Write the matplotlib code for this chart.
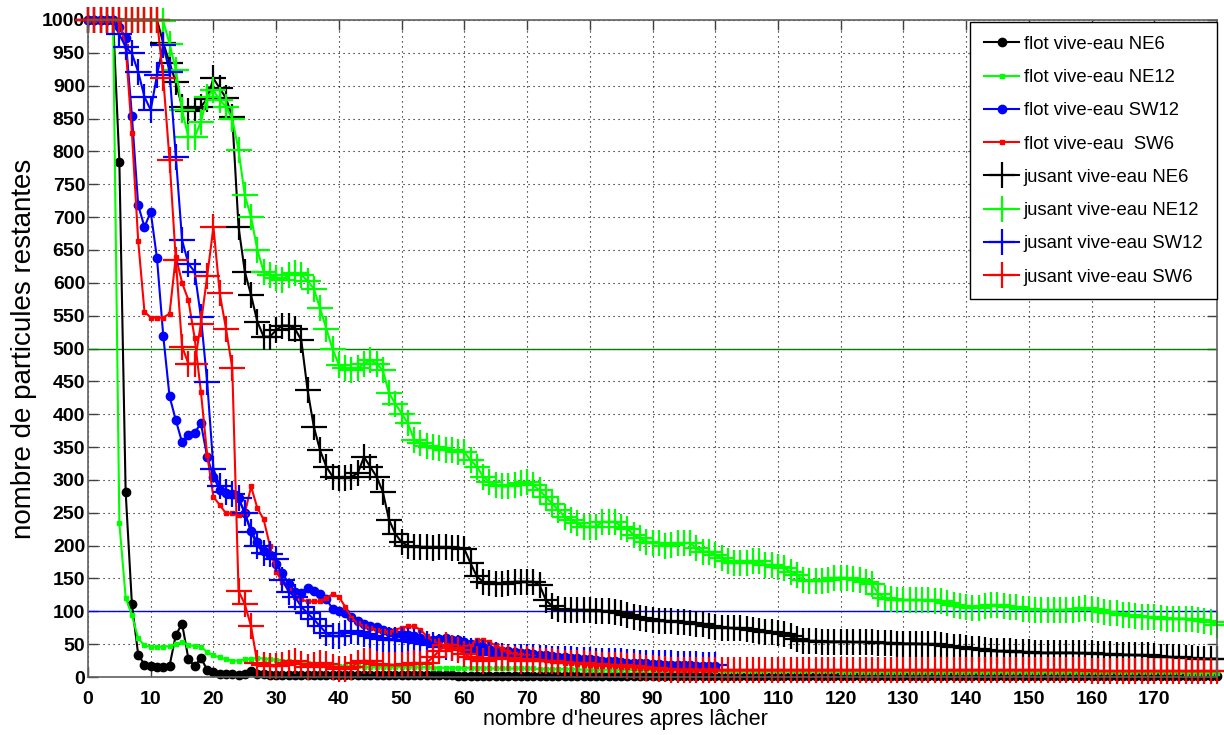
import numpy as np
import matplotlib
matplotlib.use("Agg")
import matplotlib.pyplot as plt

plt.rcParams['font.family'] = ['Liberation Sans', 'DejaVu Sans']

# ---------------- data (hours after release) ----------------
hours_long = np.arange(0, 181)
hours_short = np.arange(0, 101)

flot_NE6 = [
    1000, 1000, 1000, 1000, 1000, 784, 282, 111, 34, 19,
    16, 15, 15, 17, 64, 81, 28, 16, 29, 11,
    7, 5, 4, 4, 3, 4, 9, 5, 4, 3,
    3, 3, 3, 3, 3, 3, 3, 3, 3, 3,
    3, 3, 3, 3, 3, 3, 3, 3, 3, 3,
    3, 3, 3, 3, 3, 3, 3, 3, 3, 2,
    2, 2, 2, 2, 2, 2, 2, 2, 2, 2,
    2, 2, 2, 2, 2, 2, 2, 2, 2, 2,
    2, 2, 2, 2, 2, 2, 2, 2, 2, 2,
    2, 2, 2, 2, 2, 2, 2, 2, 2, 2,
    2, 2, 2, 2, 2, 2, 2, 2, 2, 2,
    2, 2, 2, 2, 2, 2, 2, 2, 2, 2,
    1, 1, 1, 1, 1, 1, 1, 1, 1, 1,
    1, 1, 1, 1, 1, 1, 1, 1, 1, 1,
    1, 1, 1, 1, 1, 1, 1, 1, 1, 1,
    1, 1, 1, 1, 1, 1, 1, 1, 1, 1,
    1, 1, 1, 1, 1, 1, 1, 1, 1, 1,
    1, 1, 1, 1, 1, 1, 1, 1, 1, 1,
    1]

flot_NE12 = [
    1000, 1000, 1000, 1000, 1000, 234, 121, 94, 59, 48,
    46, 46, 46, 47, 50, 53, 49, 47, 46, 38,
    33, 30, 27, 25, 25, 27, 28, 29, 28, 27,
    26, 25, 24, 23, 22, 21, 20, 19, 18, 17,
    16, 16, 16, 16, 15, 15, 15, 15, 15, 15,
    15, 15, 15, 15, 15, 14, 14, 14, 14, 14,
    14, 14, 14, 14, 13, 13, 13, 13, 13, 13,
    13, 13, 12, 12, 12, 12, 12, 12, 12, 11,
    11, 11, 11, 11, 11, 11, 11, 10, 10, 10,
    10, 10, 10, 10, 10, 10, 10, 10, 10, 10,
    9, 9, 9, 9, 9, 9, 9, 9, 9, 9,
    9, 9, 9, 9, 9, 9, 9, 9, 9, 9,
    8, 8, 8, 8, 8, 8, 8, 8, 8, 8,
    8, 8, 8, 8, 8, 8, 8, 8, 8, 8,
    7, 7, 7, 7, 7, 7, 7, 7, 7, 7,
    7, 7, 7, 7, 7, 7, 7, 7, 7, 7,
    7, 7, 7, 7, 7, 7, 7, 7, 7, 7,
    7, 7, 7, 7, 7, 6, 6, 6, 6, 6,
    6]

flot_SW12 = [
    1000, 1000, 1000, 1000, 1000, 990, 972, 854, 718, 685,
    708, 637, 519, 427, 391, 357, 368, 372, 386, 335,
    305, 285, 280, 278, 272, 250, 222, 205, 192, 186,
    172, 158, 142, 130, 128, 135, 131, 127, 118, 104,
    100, 97, 92, 86, 81, 78, 76, 72, 69, 66,
    65, 64, 63, 60, 57, 56, 58, 59, 57, 56,
    54, 50, 48, 45, 42, 41, 40, 39, 38, 37,
    36, 35, 34, 33, 32, 31, 30, 29, 29, 28,
    27, 26, 25, 24, 24, 23, 22, 22, 21, 21,
    20, 20, 19, 19, 18, 18, 18, 17, 17, 16,
    16]

flot_SW6 = [
    1000, 1000, 1000, 1000, 1000, 1000, 960, 828, 664, 556,
    547, 547, 547, 553, 640, 600, 574, 516, 434, 338,
    274, 262, 249, 249, 247, 249, 290, 257, 240, 200,
    160, 145, 132, 122, 118, 115, 115, 115, 120, 126,
    122, 107, 90, 82, 77, 75, 72, 70, 68, 72,
    75, 77, 77, 72, 62, 55, 50, 48, 47, 46,
    45, 50, 56, 56, 53, 48, 43, 38, 35, 33,
    32, 30, 28, 26, 25, 24, 22, 21, 20, 19,
    18, 17, 17, 16, 16, 15, 15, 14, 14, 13,
    12, 12, 12, 11, 11, 11, 11, 10, 10, 10,
    10]

jusant_NE6 = [
    1000, 1000, 1000, 1000, 1000, 1000, 1000, 1000, 1000, 1000,
    1000, 1000, 965, 935, 905, 868, 862, 865, 868, 880,
    911, 896, 881, 852, 685, 617, 581, 541, 518, 518,
    528, 535, 535, 530, 513, 437, 381, 345, 320, 305,
    303, 303, 305, 310, 335, 320, 305, 282, 239, 218,
    205, 200, 198, 198, 198, 197, 198, 198, 197, 196,
    195, 173, 153, 145, 143, 142, 142, 143, 145, 145,
    145, 145, 140, 117, 108, 103, 102, 102, 102, 102,
    102, 101, 100, 100, 99, 97, 95, 92, 90, 88,
    87, 86, 85, 85, 84, 83, 82, 81, 80, 78,
    76, 75, 75, 74, 74, 73, 72, 70, 69, 68,
    67, 65, 62, 58, 55, 55, 55, 54, 54, 54,
    54, 54, 53, 53, 53, 53, 52, 52, 52, 51,
    51, 51, 51, 50, 50, 50, 49, 47, 46, 45,
    44, 43, 42, 41, 40, 39, 39, 39, 38, 38,
    38, 37, 37, 37, 37, 37, 37, 37, 36, 36,
    36, 35, 35, 35, 34, 34, 34, 33, 33, 33,
    32, 31, 31, 30, 30, 29, 29, 28, 28, 28,
    28]

jusant_NE12 = [
    1000, 1000, 1000, 1000, 1000, 1000, 1000, 1000, 1000, 1000,
    1000, 1000, 998, 964, 924, 863, 822, 822, 845, 883,
    893, 878, 868, 850, 802, 733, 700, 650, 617, 612,
    608, 605, 612, 615, 612, 603, 591, 561, 530, 499,
    475, 470, 467, 470, 477, 482, 477, 467, 432, 416,
    401, 386, 361, 356, 352, 350, 348, 346, 345, 343,
    342, 330, 320, 305, 297, 292, 290, 290, 292, 295,
    297, 292, 284, 274, 264, 254, 244, 239, 234, 229,
    229, 229, 236, 236, 236, 229, 226, 216, 211, 206,
    204, 204, 199, 201, 204, 204, 204, 196, 191, 191,
    186, 181, 176, 174, 174, 174, 176, 176, 171, 171,
    168, 166, 160, 156, 148, 146, 146, 146, 148, 151,
    151, 151, 149, 148, 144, 141, 127, 120, 118, 117,
    117, 117, 117, 117, 117, 116, 115, 112, 110, 108,
    106, 105, 105, 108, 110, 110, 108, 107, 106, 104,
    103, 102, 102, 102, 102, 102, 102, 102, 103, 105,
    104, 102, 99, 98, 97, 95, 94, 93, 92, 91,
    91, 90, 89, 89, 89, 89, 88, 87, 86, 84,
    79]

jusant_SW12 = [
    1000, 1000, 1000, 1000, 1000, 978, 959, 949, 921, 883,
    863, 916, 962, 921, 792, 665, 629, 617, 548, 449,
    317, 290, 282, 278, 272, 249, 221, 200, 189, 187,
    180, 148, 130, 122, 107, 97, 88, 77, 67, 62,
    62, 67, 70, 68, 66, 62, 60, 58, 57, 56,
    56, 55, 54, 52, 50, 48, 46, 45, 44, 44,
    43, 40, 38, 36, 34, 33, 32, 31, 31, 30,
    30, 30, 29, 29, 28, 28, 27, 27, 26, 26,
    26, 25, 25, 24, 24, 24, 23, 23, 22, 22,
    22, 21, 21, 21, 20, 20, 20, 20, 19, 19,
    19]

jusant_SW6 = [
    1000, 1000, 1000, 1000, 1000, 1000, 1000, 1000, 1000, 1000,
    1000, 1000, 911, 787, 635, 503, 477, 477, 538, 610,
    685, 584, 530, 470, 131, 111, 77, 21, 18, 17,
    16, 18, 22, 25, 20, 15, 18, 22, 20, 15,
    12, 12, 15, 22, 25, 24, 20, 18, 19, 18,
    18, 20, 22, 20, 22, 30, 40, 49, 44, 41,
    35, 30, 28, 25, 27, 29, 29, 29, 28, 25,
    27, 26, 25, 24, 24, 23, 22, 22, 21, 21,
    20, 20, 19, 19, 18, 18, 17, 16, 15, 14,
    13, 12, 12, 11, 11, 10, 10, 10, 10, 10,
    10, 10, 10, 10, 10, 10, 10, 10, 10, 10,
    10, 10, 10, 10, 10, 10, 10, 10, 10, 10,
    10, 10, 10, 10, 10, 10, 10, 10, 10, 10,
    10, 10, 10, 10, 10, 10, 10, 10, 10, 10,
    10, 10, 10, 10, 10, 10, 10, 10, 10, 10,
    10, 10, 10, 10, 10, 10, 10, 10, 10, 10,
    9, 9, 9, 9, 9, 9, 9, 9, 9, 9,
    9, 9, 9, 9, 9, 9, 9, 9, 9, 9,
    9]

labels = ['flot vive-eau NE6', 'flot vive-eau NE12', 'flot vive-eau SW12',
          'flot vive-eau  SW6', 'jusant vive-eau NE6', 'jusant vive-eau NE12',
          'jusant vive-eau SW12', 'jusant vive-eau SW6']

ref_levels = [500, 100]
x_ticks = list(range(0, 171, 10))
y_ticks = list(range(0, 1001, 50))

# ---------------- figure ----------------
fig = plt.figure(figsize=(12.24, 7.35), dpi=100)
ax = fig.add_axes([0.0719, 0.0789, 0.9224, 0.8939])

LW = 1.5
ax.axhline(ref_levels[0], color='#008000', lw=1.0, zorder=1)
ax.axhline(ref_levels[1], color='#0000ff', lw=1.0, zorder=1)

common = dict(lw=LW, clip_on=False)
ax.plot(hours_long, flot_NE6, color='k', marker='o', ms=6, label=labels[0], **common)
ax.plot(hours_long, flot_NE12, color='#00ff00', marker='s', ms=3.5, label=labels[1], **common)
ax.plot(hours_short, flot_SW12, color='#0000ff', marker='o', ms=6, label=labels[2], **common)
ax.plot(hours_short, flot_SW6, color='#ff0000', marker='s', ms=3.5, label=labels[3], **common)
pm = dict(marker='+', ms=19, mew=1.6)
ax.plot(hours_long, jusant_NE6, color='k', label=labels[4], **pm, **common)
ax.plot(hours_long, jusant_NE12, color='#00ff00', label=labels[5], **pm, **common)
ax.plot(hours_short, jusant_SW12, color='#0000ff', label=labels[6], **pm, **common)
ax.plot(hours_long, jusant_SW6, color='#ff0000', label=labels[7], **pm, **common)

ax.set_xlim(0, 180)
ax.set_ylim(0, 1000)
ax.set_xticks(x_ticks)
ax.set_yticks(y_ticks)
ax.grid(True, color='k', linestyle=(0, (1, 3.5)), linewidth=0.8)
ax.set_axisbelow(True)
ax.tick_params(direction='in', top=True, right=True, length=7, width=1,
               labelsize=14, color='#404040')
ax.tick_params(axis='x', pad=10)
ax.tick_params(axis='y', pad=2)
for lab in ax.get_xticklabels() + ax.get_yticklabels():
    lab.set_fontweight('bold')
for sp in ax.spines.values():
    sp.set_color('#606060')
    sp.set_linewidth(1.2)
    sp.set_zorder(5)

ax.set_xlabel("nombre d'heures apres lâcher", fontsize=15.5)
ax.xaxis.set_label_coords(0.476, -0.049)
ax.set_ylabel("nombre de particules restantes", fontsize=20, labelpad=4)

leg = ax.legend(loc='upper right', bbox_to_anchor=(1.0, 0.997), fontsize=13.3,
                frameon=True, fancybox=False, edgecolor='k', framealpha=1,
                handlelength=1.9, labelspacing=0.88, borderpad=0.75,
                handletextpad=0.25, borderaxespad=0.0)
leg.get_frame().set_linewidth(1.0)
leg.set_zorder(10)

fig.savefig('out.png', dpi=100)
